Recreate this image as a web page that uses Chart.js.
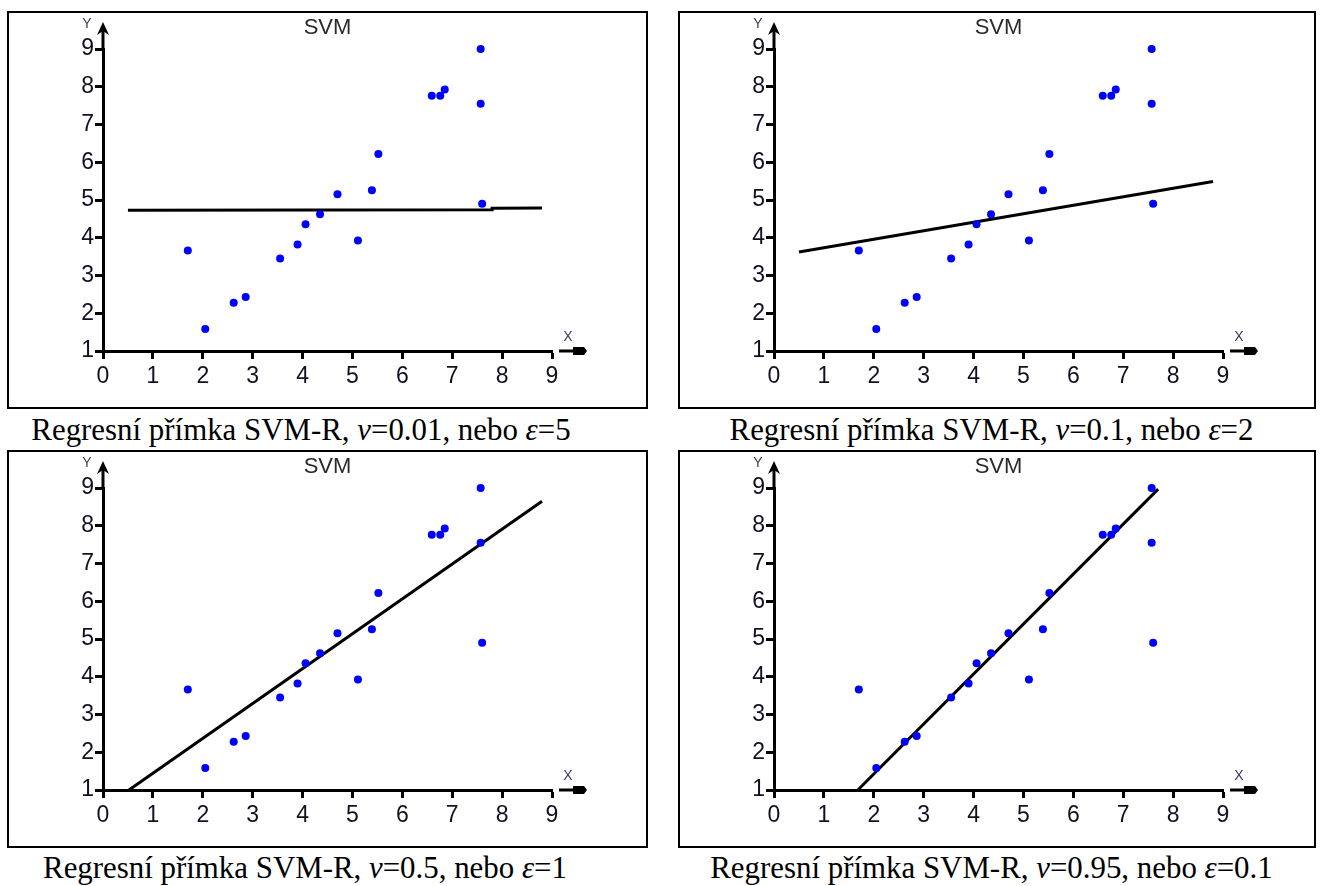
<!DOCTYPE html>
<html lang="cs">
<head>
<meta charset="utf-8">
<title>Regresní přímka SVM-R</title>
<script src="https://cdn.jsdelivr.net/npm/chart.js"></script>
<style>
    body { margin: 0; background: #fff; width: 1325px; height: 886px; position: relative; overflow: hidden; }
    .panel { position: absolute; height: 398px; border: 2px solid #000; box-sizing: border-box; }
    .panel canvas { display: block; }
    #p1 { left: 7px; top: 11px; width: 641px; }
    #p2 { left: 678px; top: 11px; width: 638px; }
    #p3 { left: 7px; top: 450px; width: 641px; }
    #p4 { left: 678px; top: 450px; width: 638px; }
    .caption { position: absolute; font-family: "Liberation Serif", "Times New Roman", serif; font-size: 32px; line-height: 32px; text-align: center; white-space: nowrap; color: #000; transform: scaleX(0.965); }
    #c1 { left: 0; width: 602px; top: 413px; }
    #c2 { left: 660px; width: 663px; top: 413px; }
    #c3 { left: 0; width: 610px; top: 851px; }
    #c4 { left: 660px; width: 663px; top: 851px; }
</style>
</head>
<body>
<div class="panel" id="p1"><canvas id="chart1"></canvas></div>
<div class="panel" id="p2"><canvas id="chart2"></canvas></div>
<div class="panel" id="p3"><canvas id="chart3"></canvas></div>
<div class="panel" id="p4"><canvas id="chart4"></canvas></div>
<div class="caption" id="c1"></div>
<div class="caption" id="c2"></div>
<div class="caption" id="c3"></div>
<div class="caption" id="c4"></div>

<script>
// data points (same in all four panels)
const pointX = [1.7, 2.05, 2.62, 2.86, 3.55, 3.9, 4.06, 4.35, 4.7, 5.11, 5.39, 5.52, 6.59, 6.76, 6.85, 7.57, 7.57, 7.6];
const pointY = [3.66, 1.58, 2.28, 2.43, 3.45, 3.82, 4.36, 4.62, 5.15, 3.93, 5.26, 6.22, 7.76, 7.76, 7.93, 9.0, 7.55, 4.9];

// regression lines
const line1X = [0.5, 7.8, 7.8, 8.8];
const line1Y = [4.73, 4.74, 4.78, 4.79];
const line2X = [0.5, 8.8];
const line2Y = [3.62, 5.49];
const line3X = [0.52, 8.8];
const line3Y = [1.0, 8.65];
const line4X = [1.68, 7.7];
const line4Y = [1.0, 8.97];

const xTicks = [0, 1, 2, 3, 4, 5, 6, 7, 8, 9];
const yTicks = [1, 2, 3, 4, 5, 6, 7, 8, 9];

const nuValues = ["0.01", "0.1", "0.5", "0.95"];
const epsValues = ["5", "2", "1", "0.1"];

const chartTitle = "SVM";

function toXY(xs, ys) {
    return xs.map((x, i) => ({ x: x, y: ys[i] }));
}

const axisArrows = {
    id: 'axisArrows',
    afterDraw(chart) {
        const ctx = chart.ctx;
        const xs = chart.scales.x;
        const ys = chart.scales.y;
        const ax = xs.getPixelForValue(xTicks[0]);
        const ay = ys.getPixelForValue(yTicks[0]);
        const top = ys.getPixelForValue(yTicks[yTicks.length - 1]);
        const xEnd = xs.getPixelForValue(xTicks[xTicks.length - 1]);

        ctx.save();
        ctx.strokeStyle = '#000';
        ctx.fillStyle = '#000';
        ctx.lineWidth = 3;

        // y axis arrow
        ctx.beginPath();
        ctx.moveTo(ax, top);
        ctx.lineTo(ax, top - 22);
        ctx.stroke();
        ctx.beginPath();
        ctx.moveTo(ax, top - 27);
        ctx.lineTo(ax + 6, top - 14);
        ctx.lineTo(ax, top - 18);
        ctx.lineTo(ax - 6, top - 14);
        ctx.closePath();
        ctx.fill();

        // x axis arrow
        ctx.beginPath();
        ctx.moveTo(xEnd + 7, ay);
        ctx.lineTo(xEnd + 22, ay);
        ctx.stroke();
        ctx.beginPath();
        ctx.moveTo(xEnd + 21, ay - 4);
        ctx.lineTo(xEnd + 32, ay - 4);
        ctx.lineTo(xEnd + 35, ay);
        ctx.lineTo(xEnd + 32, ay + 4);
        ctx.lineTo(xEnd + 21, ay + 4);
        ctx.closePath();
        ctx.fill();

        ctx.textAlign = 'center';
        ctx.textBaseline = 'middle';
        ctx.fillStyle = '#3a3a5a';
        ctx.font = '14px "Liberation Sans", Arial, sans-serif';
        ctx.fillText('Y', ax - 16, top - 25);
        ctx.fillText('X', xEnd + 16, ay - 14);

        ctx.fillStyle = '#2a2a2a';
        ctx.font = '22px "Liberation Sans", Arial, sans-serif';
        ctx.fillText(chartTitle, (chart.chartArea.left + chart.chartArea.right) / 2, top - 21);
        ctx.restore();
    }
};

function drawPanel(canvasId, lineX, lineY) {
    const ctx = document.getElementById(canvasId);
    const innerWidth = ctx.parentNode.clientWidth;

    new Chart(ctx, {
        type: 'scatter',
        data: {
            datasets: [{
                label: 'data',
                data: toXY(pointX, pointY),
                pointRadius: 4,
                pointBorderWidth: 0,
                backgroundColor: '#0000ff',
                clip: false
            }, {
                label: 'SVM-R',
                data: toXY(lineX, lineY),
                showLine: true,
                pointRadius: 0,
                borderColor: '#000',
                borderWidth: 3,
                clip: false
            }]
        },
        options: {
            responsive: true,
            maintainAspectRatio: false,
            animation: false,
            events: [],
            layout: {
                padding: { top: 36, right: innerWidth - 94 - 449, left: 0, bottom: 0 }
            },
            plugins: {
                legend: { display: false },
                tooltip: { enabled: false }
            },
            scales: {
                x: {
                    type: 'linear',
                    min: xTicks[0],
                    max: xTicks[xTicks.length - 1],
                    afterBuildTicks: scale => { scale.ticks = xTicks.map(v => ({ value: v })); },
                    afterFit: scale => { scale.height = 56; },
                    ticks: {
                        color: '#111122',
                        padding: 4,
                        maxRotation: 0,
                        font: { family: '"Liberation Sans", Arial, sans-serif', size: 23 }
                    },
                    grid: { drawOnChartArea: false, tickLength: 8, tickWidth: 3, tickColor: '#000' },
                    border: { color: '#000', width: 3 }
                },
                y: {
                    type: 'linear',
                    min: yTicks[0],
                    max: yTicks[yTicks.length - 1],
                    afterBuildTicks: scale => { scale.ticks = yTicks.map(v => ({ value: v })); },
                    afterFit: scale => { scale.width = 94; },
                    ticks: {
                        color: '#111122',
                        padding: 1,
                        font: { family: '"Liberation Sans", Arial, sans-serif', size: 23 }
                    },
                    grid: { drawOnChartArea: false, tickLength: 8, tickWidth: 3, tickColor: '#000' },
                    border: { color: '#000', width: 3 }
                }
            }
        },
        plugins: [axisArrows]
    });
}

document.addEventListener("DOMContentLoaded", function () {
    drawPanel('chart1', line1X, line1Y);
    drawPanel('chart2', line2X, line2Y);
    drawPanel('chart3', line3X, line3Y);
    drawPanel('chart4', line4X, line4Y);

    for (let i = 0; i < 4; i++) {
        document.getElementById('c' + (i + 1)).innerHTML =
            'Regresní přímka SVM-R, <i>ν</i>=' + nuValues[i] + ', nebo <i>ε</i>=' + epsValues[i];
    }
});
</script>
</body>
</html>
